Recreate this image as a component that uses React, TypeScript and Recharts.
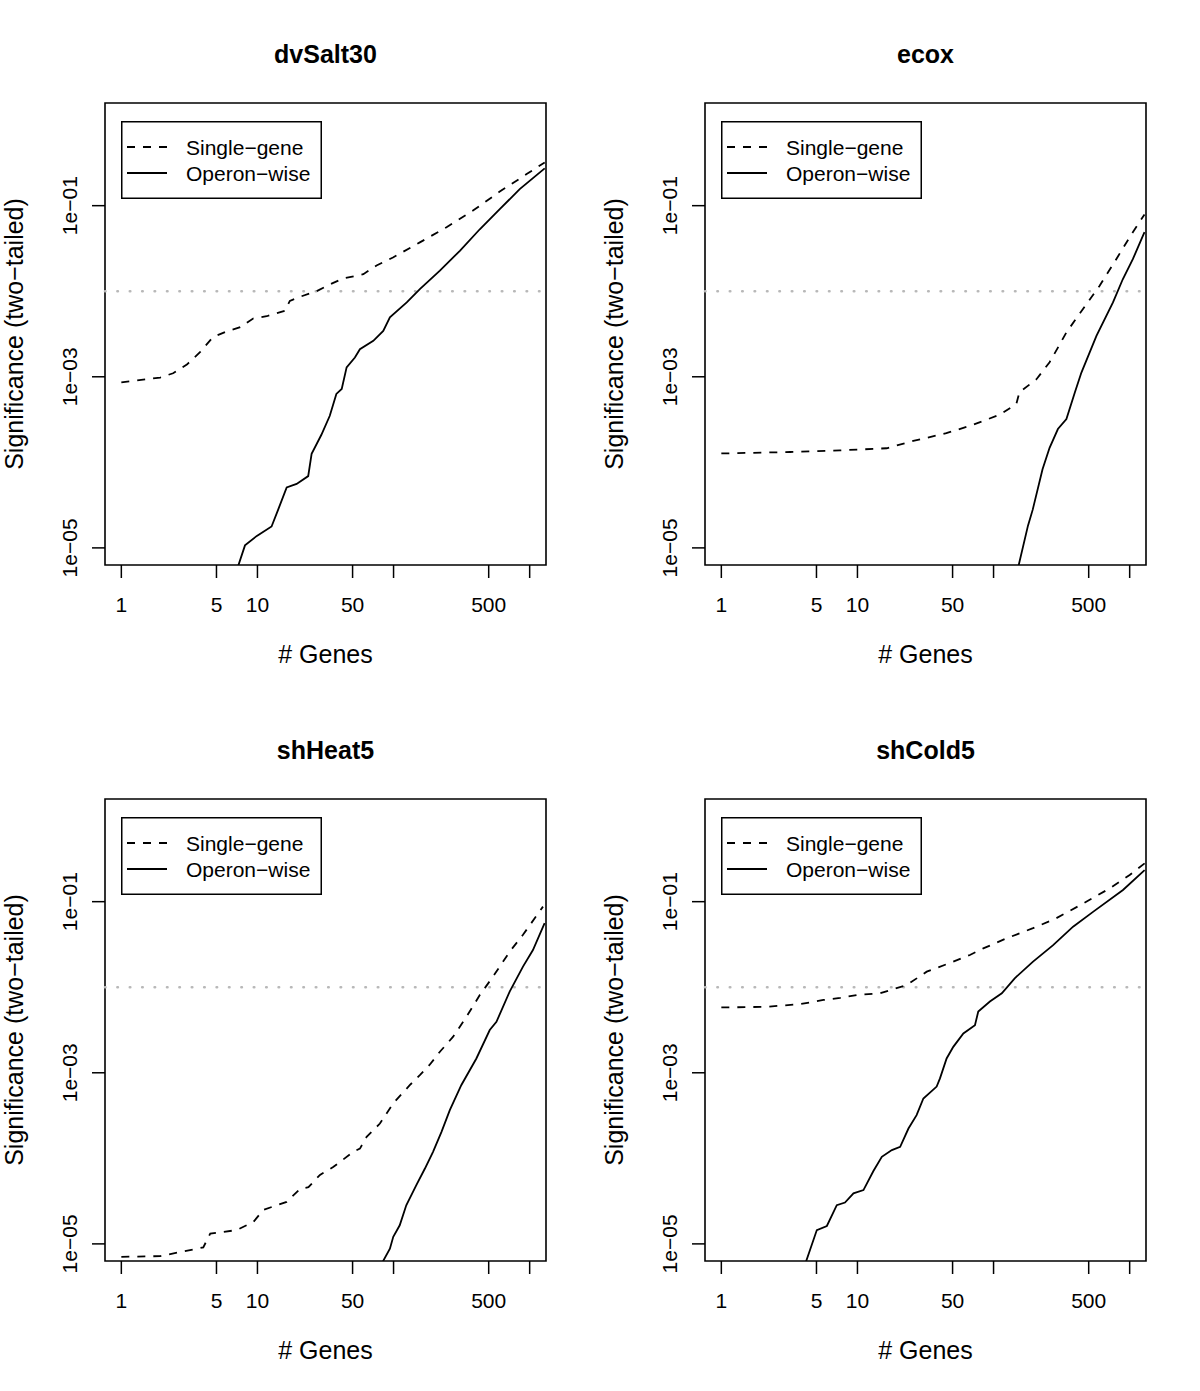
import React from "react";
import {
  LineChart,
  Line,
  XAxis,
  YAxis,
  ReferenceLine,
  ReferenceArea,
  Legend,
  Label,
} from "recharts";

const FONT = "'Liberation Sans', Arial, Helvetica, sans-serif";

// [number of genes, two-tailed p-value]
const dvSalt30Single: [number, number][] = [
  [1, 8.6e-4], [1.93, 9.8e-4], [2.4, 1.1e-3], [3.03, 1.39e-3], [3.8, 1.95e-3],
  [4.7, 2.9e-3], [5.96, 3.4e-3], [7.47, 3.8e-3], [9.3, 4.8e-3], [11.7, 5.1e-3],
  [15.9, 5.9e-3], [17.3, 7.7e-3], [20.5, 8.6e-3], [27.2, 1.0e-2], [34, 1.2e-2],
  [42.6, 1.41e-2], [60, 1.58e-2], [75, 2.0e-2], [99, 2.48e-2], [156, 3.72e-2],
  [245, 5.6e-2], [381, 8.7e-2], [603, 0.146], [950, 0.234], [1290, 0.32],
];
const dvSalt30Operon: [number, number][] = [
  [6.6, 4e-6], [8.1, 1.07e-5], [9.9, 1.38e-5], [12.7, 1.78e-5], [14.2, 2.8e-5],
  [16.4, 5.1e-5], [19.4, 5.6e-5], [23.6, 6.9e-5], [25, 1.26e-4], [29.5, 2.1e-4],
  [34, 3.5e-4], [38, 6.3e-4], [41.6, 7.2e-4], [45.2, 1.29e-3], [52, 1.68e-3],
  [56.6, 2.1e-3], [71, 2.63e-3], [84, 3.44e-3], [94, 4.94e-3], [125, 7.4e-3],
  [156, 1.06e-2], [219, 1.74e-2], [307, 2.97e-2], [430, 5.3e-2], [603, 9.1e-2],
  [845, 0.156], [1290, 0.273],
];

const ecoxSingle: [number, number][] = [
  [1, 1.27e-4], [3.2, 1.32e-4], [7.45, 1.38e-4], [16.4, 1.46e-4], [25.7, 1.78e-4],
  [45, 2.19e-4], [70.7, 2.75e-4], [111, 3.6e-4], [147, 4.8e-4], [155, 6.6e-4],
  [206, 9.3e-4], [258, 1.48e-3], [297, 2.19e-3], [343, 3.3e-3], [454, 6.2e-3],
  [600, 1.15e-2], [797, 2.37e-2], [1055, 4.9e-2], [1285, 7.9e-2],
];
const ecoxOperon: [number, number][] = [
  [150, 5.5e-6], [179, 1.82e-5], [194, 2.8e-5], [229, 8.3e-5], [258, 1.48e-4],
  [297, 2.45e-4], [343, 3.2e-4], [396, 6.6e-4], [442, 1.12e-3], [570, 3.0e-3],
  [754, 7.4e-3], [890, 1.38e-2], [1055, 2.37e-2], [1285, 4.9e-2],
];

const shHeat5Single: [number, number][] = [
  [1, 7.05e-6], [1.93, 7.2e-6], [4.0, 9.1e-6], [4.5, 1.32e-5], [7.05, 1.45e-5],
  [9.35, 1.81e-5], [11.07, 2.5e-5], [16.4, 3.1e-5], [20.6, 4.4e-5], [23.7, 4.6e-5],
  [28.8, 6.4e-5], [36, 7.9e-5], [50.6, 1.19e-4], [56.6, 1.3e-4], [63.4, 1.78e-4],
  [79.4, 2.55e-4], [99.5, 4.4e-4], [132, 7.2e-4], [156, 9.4e-4], [185, 1.25e-3],
  [219, 1.76e-3], [274, 2.64e-3], [343, 4.5e-3], [430, 8.1e-3], [538, 1.33e-2],
  [713, 2.6e-2], [893, 4.1e-2], [1253, 8.75e-2],
];
const shHeat5Operon: [number, number][] = [
  [80, 5.5e-6], [94, 8.8e-6], [99.5, 1.21e-5], [111, 1.65e-5], [124, 2.83e-5],
  [147, 4.85e-5], [170, 7.6e-5], [195, 1.19e-4], [225, 2.04e-4], [259, 3.66e-4],
  [315, 7.2e-4], [406, 1.47e-3], [509, 3.16e-3], [570, 3.94e-3], [713, 8.9e-3],
  [893, 1.74e-2], [1057, 2.72e-2], [1288, 5.6e-2],
];

const shCold5Single: [number, number][] = [
  [1, 5.8e-3], [2.16, 5.9e-3], [3.8, 6.35e-3], [5.63, 7.1e-3], [7.46, 7.5e-3],
  [9.9, 8.1e-3], [14.7, 8.5e-3], [18.4, 9.5e-3], [23, 1.06e-2], [32.3, 1.52e-2],
  [50.6, 1.99e-2], [67, 2.38e-2], [84, 2.84e-2], [124, 3.72e-2], [195, 4.9e-2],
  [289, 6.4e-2], [455, 9.5e-2], [713, 0.143], [1000, 0.205], [1288, 0.28],
];
const shCold5Operon: [number, number][] = [
  [4.0, 5e-6], [5.03, 1.45e-5], [5.96, 1.62e-5], [7.05, 2.83e-5], [8.1, 3.04e-5],
  [9.35, 3.9e-5], [11.07, 4.25e-5], [13.1, 7.1e-5], [15.1, 1.04e-4], [17.9, 1.25e-4],
  [20.6, 1.36e-4], [23.7, 2.23e-4], [27.2, 3.2e-4], [30.5, 5.0e-4], [38.2, 6.9e-4],
  [40.4, 8.6e-4], [45.2, 1.47e-3], [50.6, 2.01e-3], [60, 2.88e-3], [73, 3.6e-3],
  [77.2, 5.2e-3], [94, 6.8e-3], [115, 8.5e-3], [143, 1.27e-2], [195, 1.99e-2],
  [274, 3.1e-2], [384, 5.1e-2], [538, 7.6e-2], [893, 0.137], [1288, 0.234],
];

const xTicks = [1, 5, 10, 50, 100, 500, 1000];
const xTickLabels: Record<number, string> = { 1: "1", 5: "5", 10: "10", 50: "50", 500: "500" };
const yTicks = [1e-5, 1e-3, 1e-1];
const cutoff = 0.01;

const X_DOMAIN = [Math.pow(10, -0.12), Math.pow(10, 3.12)];
const Y_DOMAIN = [Math.pow(10, -5.2), Math.pow(10, 0.2)];

const panels = [
  { title: "dvSalt30", single: dvSalt30Single, operon: dvSalt30Operon },
  { title: "ecox", single: ecoxSingle, operon: ecoxOperon },
  { title: "shHeat5", single: shHeat5Single, operon: shHeat5Operon },
  { title: "shCold5", single: shCold5Single, operon: shCold5Operon },
];

const toRows = (pts: [number, number][]) => pts.map(([n, p]) => ({ n, p }));

const fmtSci = (v: number) => {
  const e = Math.round(Math.log10(v));
  return `1e${e < 0 ? "\u2212" : "+"}${String(Math.abs(e)).padStart(2, "0")}`;
};

const XTick = (props: any) => {
  const { x, y, payload } = props;
  return (
    <text x={x} y={y + 32} textAnchor="middle" fontSize={21} fill="#000" fontFamily={FONT}>
      {xTickLabels[payload.value] ?? ""}
    </text>
  );
};

const YTick = (props: any) => {
  const { x, y, payload } = props;
  const bx = x - 13;
  return (
    <text
      x={bx}
      y={y}
      transform={`rotate(-90 ${bx} ${y})`}
      textAnchor="middle"
      fontSize={21}
      fill="#000"
      fontFamily={FONT}
    >
      {fmtSci(payload.value)}
    </text>
  );
};

const LegendBox = () => (
  <svg width={201} height={78} style={{ display: "block" }}>
    <rect x={0.75} y={0.75} width={199.5} height={76.5} fill="#fff" stroke="#000" strokeWidth={1.5} />
    <line x1={6} x2={46} y1={26} y2={26} stroke="#000" strokeWidth={1.8} strokeDasharray="8 8" />
    <line x1={6} x2={46} y1={52} y2={52} stroke="#000" strokeWidth={1.8} />
    <text x={65} y={33.5} fontSize={21} fontFamily={FONT} fill="#000">Single{"\u2212"}gene</text>
    <text x={65} y={59.5} fontSize={21} fontFamily={FONT} fill="#000">Operon{"\u2212"}wise</text>
  </svg>
);

const Panel = ({ title, single, operon }: { title: string; single: [number, number][]; operon: [number, number][] }) => (
  <div style={{ position: "relative", width: 600, height: 696 }}>
    <div
      style={{
        position: "absolute",
        left: 105,
        width: 441,
        top: 42,
        textAlign: "center",
        fontFamily: FONT,
        fontWeight: "bold",
        fontSize: 25,
        lineHeight: "25px",
        color: "#000",
      }}
    >
      {title}
    </div>
    <LineChart width={600} height={696} margin={{ top: 103, right: 54, bottom: 101, left: 45 }}>
      <XAxis
        type="number"
        dataKey="n"
        scale="log"
        domain={X_DOMAIN}
        allowDataOverflow
        ticks={xTicks}
        interval={0}
        height={30}
        axisLine={false}
        tickSize={13}
        tickLine={{ stroke: "#000", strokeWidth: 1.5 }}
        tick={<XTick />}
      >
        <Label
          content={(p: any) => {
            const vb = p.viewBox;
            return (
              <text x={vb.x + vb.width / 2} y={vb.y + 98} textAnchor="middle" fontSize={25} fontFamily={FONT} fill="#000">
                # Genes
              </text>
            );
          }}
        />
      </XAxis>
      <YAxis
        type="number"
        dataKey="p"
        scale="log"
        domain={Y_DOMAIN}
        allowDataOverflow
        ticks={yTicks}
        interval={0}
        width={60}
        axisLine={false}
        tickSize={13}
        tickLine={{ stroke: "#000", strokeWidth: 1.5 }}
        tick={<YTick />}
      >
        <Label
          content={(p: any) => {
            const vb = p.viewBox;
            const cx = vb.x - 22;
            const cy = vb.y + vb.height / 2;
            return (
              <text
                x={cx}
                y={cy}
                transform={`rotate(-90 ${cx} ${cy})`}
                textAnchor="middle"
                fontSize={25}
                fontFamily={FONT}
                fill="#000"
              >
                Significance (two{"\u2212"}tailed)
              </text>
            );
          }}
        />
      </YAxis>
      <ReferenceLine
        y={cutoff}
        stroke="#b8b8b8"
        strokeWidth={2.6}
        strokeDasharray="0.5 11.9"
        strokeLinecap="round"
      />
      <Line
        data={toRows(single)}
        dataKey="p"
        type="linear"
        stroke="#000"
        strokeWidth={1.8}
        strokeDasharray="8 8"
        dot={false}
        activeDot={false}
        isAnimationActive={false}
        name="Single-gene"
      />
      <Line
        data={toRows(operon)}
        dataKey="p"
        type="linear"
        stroke="#000"
        strokeWidth={1.8}
        dot={false}
        activeDot={false}
        isAnimationActive={false}
        name="Operon-wise"
      />
      <ReferenceArea
        x1={X_DOMAIN[0]}
        x2={X_DOMAIN[1]}
        y1={Y_DOMAIN[0]}
        y2={Y_DOMAIN[1]}
        fill="none"
        stroke="#000"
        strokeWidth={1.6}
        ifOverflow="visible"
      />
      <Legend
        layout="vertical"
        align="center"
        verticalAlign="middle"
        width={201}
        height={78}
        wrapperStyle={{ left: 121, top: 121, width: 201, height: 78 }}
        content={() => <LegendBox />}
      />
    </LineChart>
  </div>
);

export default function App() {
  return (
    <div
      style={{
        position: "absolute",
        left: 0,
        top: 0,
        width: 1200,
        height: 1391,
        background: "#fff",
        overflow: "hidden",
        display: "grid",
        gridTemplateColumns: "600px 600px",
        gridTemplateRows: "696px 695px",
      }}
    >
      {panels.map((p) => (
        <Panel key={p.title} title={p.title} single={p.single} operon={p.operon} />
      ))}
    </div>
  );
}
